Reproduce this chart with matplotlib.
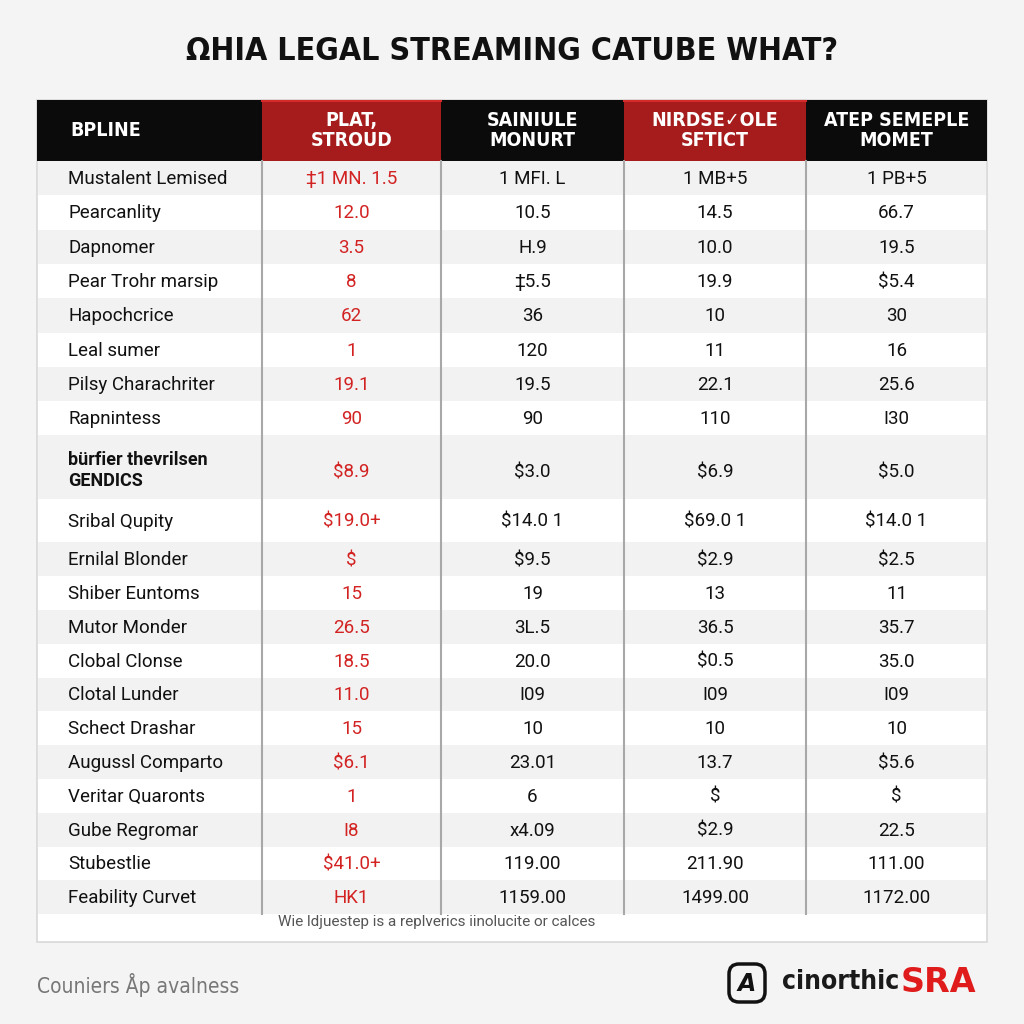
import matplotlib.pyplot as plt
from matplotlib.patches import Rectangle, FancyBboxPatch

# ---- data ----
title = "ΩHIA LEGAL STREAMING CATUBE WHAT?"
headers = ["BPLINE", "PLAT,\nSTROUD", "SAINIULE\nMONURT", "NIRDSE✓OLE\nSFTICT", "ATEP SEMEPLE\nMOMET"]
row_labels = [
    "Mustalent Lemised", "Pearcanlity", "Dapnomer", "Pear Trohr marsip",
    "Hapochcrice", "Leal sumer", "Pilsy Charachriter", "Rapnintess",
    "bürfier thevrilsen\nGENDICS", "Sribal Qupity", "Ernilal Blonder",
    "Shiber Euntoms", "Mutor Monder", "Clobal Clonse", "Clotal Lunder",
    "Schect Drashar", "Augussl Comparto", "Veritar Quaronts", "Gube Regromar",
    "Stubestlie", "Feability Curvet",
]
col_plat = ["‡1 MN. 1.5", "12.0", "3.5", "8", "62", "1", "19.1", "90", "$8.9",
            "$19.0+", "$", "15", "26.5", "18.5", "11.0", "15", "$6.1", "1", "I8",
            "$41.0+", "HK1"]
col_sainiule = ["1 MFI. L", "10.5", "H.9", "‡5.5", "36", "120", "19.5", "90", "$3.0",
                "$14.0 1", "$9.5", "19", "3L.5", "20.0", "I09", "10", "23.01", "6",
                "x4.09", "119.00", "1159.00"]
col_nirdse = ["1 MB+5", "14.5", "10.0", "19.9", "10", "11", "22.1", "110", "$6.9",
              "$69.0 1", "$2.9", "13", "36.5", "$0.5", "I09", "10", "13.7", "$",
              "$2.9", "211.90", "1499.00"]
col_atep = ["1 PB+5", "66.7", "19.5", "$5.4", "30", "16", "25.6", "I30", "$5.0",
            "$14.0 1", "$2.5", "11", "35.7", "35.0", "I09", "10", "$5.6", "$",
            "22.5", "111.00", "1172.00"]
note = "Wie ldjuestep is a replverics iinolucite or calces"
footer = "Couniers Åp avalness"

# ---- layout (pixels) ----
RED = "#a61c1c"
RED_TXT = "#d32222"
BLACK = "#0b0b0b"
col_edges = [37, 262, 441, 624, 806, 987]
header_top, header_bot = 100, 161
row_h = [34.3] * 8 + [64, 43] + [33.8] * 11
cond = dict(family=["DejaVu Sans"], stretch="condensed")
body = ["Roboto", "DejaVu Sans"]

fig = plt.figure(figsize=(10.24, 10.24), dpi=100)
fig.patch.set_facecolor("#f4f4f4")
ax = fig.add_axes([0, 0, 1, 1])
ax.set_xlim(0, 1024)
ax.set_ylim(1024, 0)
ax.axis("off")

# table body
ax.add_patch(Rectangle((col_edges[0], header_top), col_edges[-1] - col_edges[0], 942 - header_top,
                       facecolor="white", edgecolor="#d8d8d8", lw=1.2, zorder=1))

# header
hdr_colors = [BLACK, RED, BLACK, RED, BLACK]
for i, h in enumerate(headers):
    x0, x1 = col_edges[i], col_edges[i + 1]
    ax.add_patch(Rectangle((x0, header_top), x1 - x0, header_bot - header_top,
                           facecolor=hdr_colors[i], edgecolor="none", zorder=2))
    if i == 0:
        ax.text(x0 + 33, (header_top + header_bot) / 2, h, color="white", fontsize=14,
                fontweight="bold", ha="left", va="center", zorder=3, **cond)
    else:
        ax.text((x0 + x1) / 2, (header_top + header_bot) / 2, h, color="white", fontsize=14,
                fontweight="bold", ha="center", va="center",
                linespacing=1.1, zorder=3, **cond)
        if hdr_colors[i] == RED:
            ax.plot([x0, x1], [header_top + 1, header_top + 1], color="#d42a2a", lw=1.5, zorder=2.5)

# rows
columns = [col_plat, col_sainiule, col_nirdse, col_atep]
y = header_bot
for r, lab in enumerate(row_labels):
    h = row_h[r]
    if r % 2 == 0:
        ax.add_patch(Rectangle((col_edges[0] + 1, y), col_edges[-1] - col_edges[0] - 2, h,
                               facecolor="#f2f2f2", edgecolor="none", zorder=1.5))
    yc = y + h / 2 + 1
    if "\n" in lab:
        ax.text(68, yc + 2, lab, fontsize=13, fontweight="bold", family=body,
                ha="left", va="center", color="#111111", linespacing=1.25, zorder=3)
    else:
        ax.text(68, yc, lab, fontsize=13.5, family=body,
                ha="left", va="center", color="#111111", zorder=3)
    for c, vals in enumerate(columns):
        xc = (col_edges[c + 1] + col_edges[c + 2]) / 2
        ax.text(xc, yc + (4 if "\n" in lab else 0), vals[r], fontsize=13.5,
                family=body, ha="center", va="center",
                color=RED_TXT if c == 0 else "#111111", zorder=3)
    y += h

# column separators
for x in col_edges[1:-1]:
    ax.plot([x, x], [header_bot, y], color="#a8a8a8", lw=1.5, zorder=2.5)

ax.text(278, 922, note, fontsize=11, family=body, color="#555555",
        ha="left", va="center", zorder=3)

# title
ax.text(512, 52, title, fontsize=23, fontweight="bold", ha="center",
        va="center", color="#111111", **cond)

# footer
ax.text(37, 985, footer, fontsize=15, color="#777777", ha="left", va="center", **cond)
ax.add_patch(FancyBboxPatch((729, 964), 36, 38, boxstyle="round,pad=0,rounding_size=10",
                            facecolor="none", edgecolor="#111111", lw=2.5))
ax.text(747, 984, "A", fontsize=17, fontweight="bold", style="italic", ha="center",
        va="center", color="#111111")
ax.text(782, 982, "cinorthic", fontsize=19, fontweight="bold", ha="left",
        va="center", color="#1a1a1a", **cond)
ax.text(901, 982, "SRA", fontsize=24, fontweight="bold",
        ha="left", va="center", color="#e01b1b")

fig.savefig("out.png", dpi=100, facecolor=fig.get_facecolor())
